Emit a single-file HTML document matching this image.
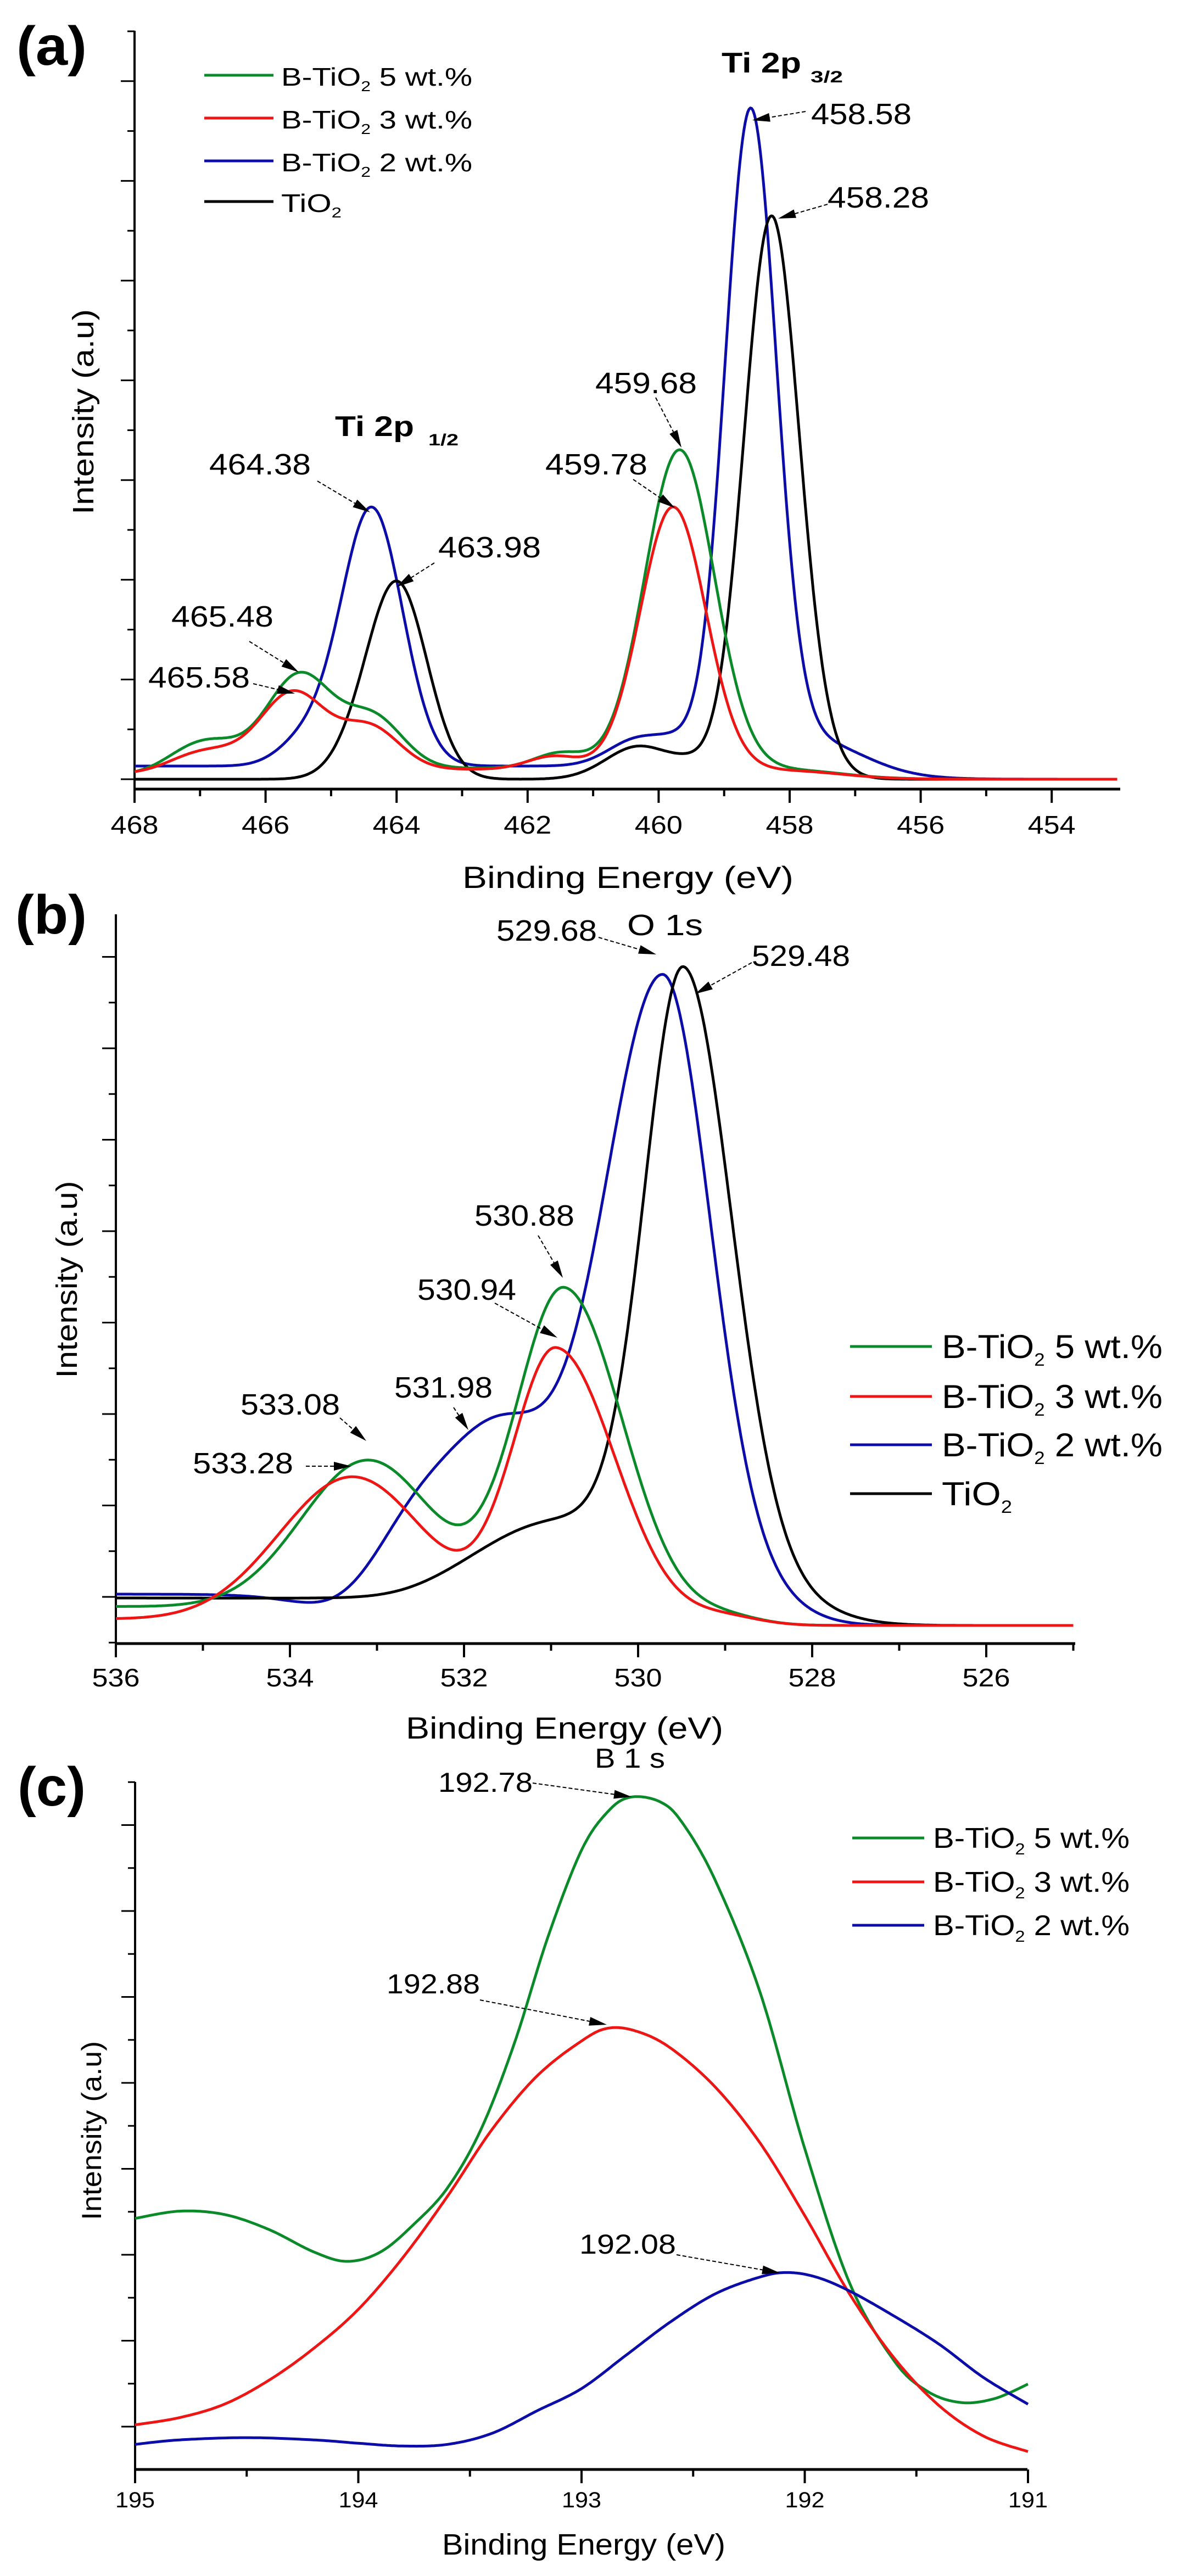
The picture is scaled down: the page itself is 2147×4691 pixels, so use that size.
<!DOCTYPE html>
<html><head><meta charset="utf-8">
<style>
html,body{margin:0;padding:0;background:#fff;}
svg{display:block;}
text{font-family:"Liberation Sans",Arial,sans-serif;fill:#000;}
</style></head>
<body>
<svg id="s" xmlns="http://www.w3.org/2000/svg" width="2147" height="4691" viewBox="0 0 2147 4691">
<rect width="2147" height="4691" fill="#fff"/>
<g id="axes" stroke="#000" fill="none"></g>
<g id="curves" fill="none" stroke-width="5" stroke-linejoin="round"></g>
<g id="arrows"></g>

<!-- Panel a texts -->
<text x="30" y="118" font-size="100" font-weight="bold" textLength="128" lengthAdjust="spacingAndGlyphs">(a)</text>
<text x="512" y="156" font-size="46" textLength="348" lengthAdjust="spacingAndGlyphs">B-TiO<tspan font-size="26" dy="10">2</tspan><tspan dy="-10"> 5 wt.%</tspan></text>
<text x="512" y="234" font-size="46" textLength="348" lengthAdjust="spacingAndGlyphs">B-TiO<tspan font-size="26" dy="10">2</tspan><tspan dy="-10"> 3 wt.%</tspan></text>
<text x="512" y="312" font-size="46" textLength="348" lengthAdjust="spacingAndGlyphs">B-TiO<tspan font-size="26" dy="10">2</tspan><tspan dy="-10"> 2 wt.%</tspan></text>
<text x="512" y="386" font-size="46" textLength="110" lengthAdjust="spacingAndGlyphs">TiO<tspan font-size="26" dy="10">2</tspan></text>
<text x="1314" y="132" font-size="52" font-weight="bold" textLength="145" lengthAdjust="spacingAndGlyphs">Ti 2p</text>
<text x="1476" y="150" font-size="30" font-weight="bold" textLength="59" lengthAdjust="spacingAndGlyphs">3/2</text>
<text x="610" y="794" font-size="52" font-weight="bold" textLength="144" lengthAdjust="spacingAndGlyphs">Ti 2p</text>
<text x="780" y="811" font-size="30" font-weight="bold" textLength="55" lengthAdjust="spacingAndGlyphs">1/2</text>
<g font-size="54">
<text x="1477" y="226" textLength="183" lengthAdjust="spacingAndGlyphs">458.58</text>
<text x="1507" y="378" textLength="185" lengthAdjust="spacingAndGlyphs">458.28</text>
<text x="1084" y="716" textLength="185" lengthAdjust="spacingAndGlyphs">459.68</text>
<text x="993" y="864" textLength="186" lengthAdjust="spacingAndGlyphs">459.78</text>
<text x="381" y="864" textLength="185" lengthAdjust="spacingAndGlyphs">464.38</text>
<text x="798" y="1015" textLength="187" lengthAdjust="spacingAndGlyphs">463.98</text>
<text x="312" y="1141" textLength="186" lengthAdjust="spacingAndGlyphs">465.48</text>
<text x="270" y="1252" textLength="185" lengthAdjust="spacingAndGlyphs">465.58</text>
</g>
<text x="842" y="1617" font-size="56" textLength="603" lengthAdjust="spacingAndGlyphs">Binding Energy (eV)</text>
<text transform="translate(170,750) rotate(-90)" x="0" y="0" text-anchor="middle" font-size="54" textLength="374" lengthAdjust="spacingAndGlyphs">Intensity (a.u)</text>

<!-- Panel b texts -->
<text x="28" y="1700" font-size="100" font-weight="bold" textLength="130" lengthAdjust="spacingAndGlyphs">(b)</text>
<g font-size="54">
<text x="1142" y="1703" textLength="138" lengthAdjust="spacingAndGlyphs">O 1s</text>
<text x="904" y="1713" textLength="183" lengthAdjust="spacingAndGlyphs">529.68</text>
<text x="1369" y="1759" textLength="179" lengthAdjust="spacingAndGlyphs">529.48</text>
<text x="864" y="2232" textLength="182" lengthAdjust="spacingAndGlyphs">530.88</text>
<text x="760" y="2367" textLength="180" lengthAdjust="spacingAndGlyphs">530.94</text>
<text x="718" y="2545" textLength="179" lengthAdjust="spacingAndGlyphs">531.98</text>
<text x="438" y="2576" textLength="181" lengthAdjust="spacingAndGlyphs">533.08</text>
<text x="351" y="2683" textLength="183" lengthAdjust="spacingAndGlyphs">533.28</text>
</g>
<g font-size="60">
<text x="1715" y="2473" textLength="402" lengthAdjust="spacingAndGlyphs">B-TiO<tspan font-size="32" dy="14">2</tspan><tspan dy="-14"> 5 wt.%</tspan></text>
<text x="1715" y="2564" textLength="402" lengthAdjust="spacingAndGlyphs">B-TiO<tspan font-size="32" dy="14">2</tspan><tspan dy="-14"> 3 wt.%</tspan></text>
<text x="1715" y="2652" textLength="402" lengthAdjust="spacingAndGlyphs">B-TiO<tspan font-size="32" dy="14">2</tspan><tspan dy="-14"> 2 wt.%</tspan></text>
<text x="1715" y="2741" textLength="128" lengthAdjust="spacingAndGlyphs">TiO<tspan font-size="32" dy="14">2</tspan></text>
</g>
<text x="739" y="3166" font-size="56" textLength="578" lengthAdjust="spacingAndGlyphs">Binding Energy (eV)</text>
<text transform="translate(140,2330) rotate(-90)" x="0" y="0" text-anchor="middle" font-size="54" textLength="359" lengthAdjust="spacingAndGlyphs">Intensity (a.u)</text>

<!-- Panel c texts -->
<text x="32" y="3288" font-size="100" font-weight="bold" textLength="124" lengthAdjust="spacingAndGlyphs">(c)</text>
<g font-size="50">
<text x="1083" y="3219" textLength="128" lengthAdjust="spacingAndGlyphs">B 1 s</text>
<text x="798" y="3263" textLength="172" lengthAdjust="spacingAndGlyphs">192.78</text>
<text x="704" y="3630" textLength="170" lengthAdjust="spacingAndGlyphs">192.88</text>
<text x="1055" y="4104" textLength="176" lengthAdjust="spacingAndGlyphs">192.08</text>
</g>
<g font-size="52">
<text x="1699" y="3365" textLength="358" lengthAdjust="spacingAndGlyphs">B-TiO<tspan font-size="29" dy="12">2</tspan><tspan dy="-12"> 5 wt.%</tspan></text>
<text x="1699" y="3445" textLength="358" lengthAdjust="spacingAndGlyphs">B-TiO<tspan font-size="29" dy="12">2</tspan><tspan dy="-12"> 3 wt.%</tspan></text>
<text x="1699" y="3524" textLength="358" lengthAdjust="spacingAndGlyphs">B-TiO<tspan font-size="29" dy="12">2</tspan><tspan dy="-12"> 2 wt.%</tspan></text>
</g>
<text x="805" y="4652" font-size="54" textLength="516" lengthAdjust="spacingAndGlyphs">Binding Energy (eV)</text>
<text transform="translate(184,3880) rotate(-90)" x="0" y="0" text-anchor="middle" font-size="50" textLength="326" lengthAdjust="spacingAndGlyphs">Intensity (a.u)</text>
<g id="ticklabels"></g>
</svg>
<script>
(function(){
var NS="http://www.w3.org/2000/svg";
function el(p,t,a){var e=document.createElementNS(NS,t);for(var k in a)e.setAttribute(k,a[k]);p.appendChild(e);return e;}
var axes=document.getElementById('axes'),cur=document.getElementById('curves'),arr=document.getElementById('arrows'),tl=document.getElementById('ticklabels');
function g(e,c,A,s){return A*Math.exp(-(e-c)*(e-c)/(2*s*s));}
function ag(e,c,A,sl,sr){var s=e>c?sl:sr;return g(e,c,A,s);}
function sg(e,c,w){return 1/(1+Math.exp(-(e-c)/w));}
var COL={g:'#0b8a2a',r:'#ee1515',b:'#0c0ca8',k:'#000'};

function axis(o){
 el(axes,'line',{x1:o.x0,y1:o.yAxis,x2:o.x1,y2:o.yAxis,'stroke-width':5});
 el(axes,'line',{x1:o.x0,y1:o.yAxis,x2:o.x0,y2:o.yTop,'stroke-width':4});
 o.xmaj.forEach(function(e){var x=o.X(e);el(axes,'line',{x1:x,y1:o.yAxis,x2:x,y2:o.yAxis+25,'stroke-width':4});
   var t=el(tl,'text',{x:x,y:o.ly,'text-anchor':'middle','font-size':o.fs,textLength:o.tw,lengthAdjust:'spacingAndGlyphs'});t.textContent=o.fmt(e);});
 o.xmin.forEach(function(e){var x=o.X(e);el(axes,'line',{x1:x,y1:o.yAxis,x2:x,y2:o.yAxis+13,'stroke-width':4});});
 o.ymaj.forEach(function(y){el(axes,'line',{x1:o.x0-25,y1:y,x2:o.x0,y2:y,'stroke-width':3});});
 o.ymin.forEach(function(y){el(axes,'line',{x1:o.x0-13,y1:y,x2:o.x0,y2:y,'stroke-width':3});});
}
function path(pts,col){var d='M'+pts.map(function(p){return p[0].toFixed(1)+','+p[1].toFixed(1);}).join(' L');el(cur,'path',{d:d,stroke:col});}
function arrow(x1,y1,x2,y2){
 var dx=x2-x1,dy=y2-y1,L=Math.sqrt(dx*dx+dy*dy),ux=dx/L,uy=dy/L,h=32,w=8;
 var bx=x2-ux*h,by=y2-uy*h;
 el(arr,'line',{x1:x1,y1:y1,x2:bx,y2:by,stroke:'#000','stroke-width':2,'stroke-dasharray':'7 4'});
 el(arr,'polygon',{points:x2+','+y2+' '+(bx-uy*w)+','+(by+ux*w)+' '+(bx+uy*w)+','+(by-ux*w),fill:'#000'});
}
function range(a,b,s){var r=[];for(var v=a;v<=b+1e-9;v+=s)r.push(+v.toFixed(3));return r;}

// ---------- Panel a ----------
var Xa=function(e){return 245+(468-e)*119.3;};
var ya=[],yam=[];for(var k=0;k<=7;k++){ya.push(1419-181.6*k);}for(k=0;k<8;k++){yam.push(1419-181.6*k-90.8);}
axis({x0:245,x1:2040,yAxis:1437,yTop:56,X:Xa,xmaj:range(454,468,2),xmin:range(455,467,2),ymaj:ya,ymin:yam,ly:1518,fs:46,tw:87,fmt:function(e){return e;}});
var Ba=1419;
var fa={
 b:function(e){return 24*sg(e,457.0,0.5)+g(e,458.6,1170,0.39)+g(e,457.7,55,0.8)+g(e,464.38,470,0.47)+g(e,465.4,45,0.4)+g(e,460.3,50,0.45)+g(e,459.7,25,0.3);},
 k:function(e){return g(e,458.28,1020,0.42)+g(e,457.6,25,0.4)+g(e,463.98,350,0.45)+g(e,464.6,35,0.4)+g(e,460.3,60,0.5)+g(e,459.5,18,0.3);},
 g:function(e){return 20*sg(e,457.2,0.4)+g(e,459.68,580,0.53)+g(e,465.48,170,0.5)+g(e,464.35,90,0.45)+g(e,466.9,50,0.5)+g(e,461.5,28,0.4)-12*sg(e,467.6,0.2);},
 r:function(e){return 18*sg(e,457.2,0.4)+g(e,459.78,478,0.5)+g(e,465.58,140,0.5)+g(e,464.4,75,0.45)+g(e,466.9,33,0.5)+g(e,461.6,24,0.4)-8*sg(e,467.6,0.2);}
};
['b','k','g','r'].forEach(function(c){var p=[];for(var e=468;e>=453-1e-9;e-=0.02){p.push([Xa(e),Ba-fa[c](e)]);}path(p,COL[c]);});
[[137,'g'],[215,'r'],[293,'b'],[367,'k']].forEach(function(r){el(cur,'line',{x1:372,y1:r[0],x2:498,y2:r[0],stroke:COL[r[1]]});});
arrow(1467,203,1370,219);arrow(1507,372,1417,398);arrow(1194,724,1241,815);arrow(1153,873,1229,925);
arrow(578,876,674,933);arrow(791,1025,722,1069);arrow(454,1168,544,1224);arrow(461,1245,537,1263);

// ---------- Panel b ----------
var Xb=function(e){return 211+(536-e)*158.5;};
var yb=[],ybm=[];for(k=0;k<=7;k++){yb.push(2908-166.5*k);}for(k=-1;k<8;k++){ybm.push(2908-166.5*k-83.25);}
ybm=ybm.filter(function(y){return y<2993&&y>1660;});
axis({x0:211,x1:1958,yAxis:2993,yTop:1665,X:Xb,xmaj:range(526,536,2),xmin:range(525,535,2),ymaj:yb,ymin:ybm,ly:3071,fs:46,tw:87,fmt:function(e){return e;}});
var Bb=2960;
var fb={
 b:function(e){return 57*sg(e,533.7,0.3)+ag(e,529.72,1180,0.7,0.55)+g(e,531.6,330,0.6)+g(e,532.6,150,0.5)+g(e,528.6,40,0.5);},
 k:function(e){return 50*sg(e,533.0,0.4)+ag(e,529.47,1110,0.45,0.55)+g(e,530.9,190,1.1)+g(e,528.4,38,0.6);},
 g:function(e){return 35*sg(e,534.5,0.4)+ag(e,530.85,610,0.55,0.675)+g(e,533.1,300,0.8)+g(e,529.0,15,0.4);},
 r:function(e){return 13*sg(e,535,0.6)+ag(e,530.94,500,0.5,0.68)+g(e,533.28,270,0.85)+g(e,529.0,15,0.4);}
};
['b','k','g','r'].forEach(function(c){var p=[];for(var e=536;e>=525-1e-9;e-=0.02){p.push([Xb(e),Bb-fb[c](e)]);}path(p,COL[c]);});
[[2452,'g'],[2543,'r'],[2631,'b'],[2720,'k']].forEach(function(r){el(cur,'line',{x1:1548,y1:r[0],x2:1697,y2:r[0],stroke:COL[r[1]]});});
arrow(1090,1707,1195,1738);arrow(1369,1753,1266,1810);arrow(980,2250,1025,2327);arrow(901,2373,1015,2436);
arrow(826,2563,853,2604);arrow(619,2582,667,2624);arrow(557,2670,640,2670);

// ---------- Panel c ----------
var Xc=function(e){return 246+(195-e)*406.5;};
var yc=[],ycm=[];for(k=0;k<=7;k++){yc.push(4419-156.5*k);}for(k=-1;k<8;k++){ycm.push(4419-156.5*k-78.25);}
ycm=ycm.filter(function(y){return y<4497&&y>3240;});
axis({x0:246,x1:1871,yAxis:4497,yTop:3245,X:Xc,xmaj:range(191,195,1),xmin:range(191.5,194.5,1),ymaj:yc,ymin:ycm,ly:4566,fs:40,tw:72,fmt:function(e){return e;}});
function cy(z){return 3100+z*1.016;}
var P={
 g:[[195,925],[194.8,912],[194.6,918],[194.4,945],[194.2,985],[194.05,1002],[193.9,985],[193.75,935],[193.6,870],[193.45,765],[193.3,610],[193.15,420],[193.0,265],[192.88,195],[192.78,170],[192.65,178],[192.55,215],[192.4,320],[192.2,520],[192.0,800],[191.8,1040],[191.6,1180],[191.45,1235],[191.3,1255],[191.15,1248],[191.0,1222]],
 r:[[195,1295],[194.8,1282],[194.6,1258],[194.4,1215],[194.2,1158],[194.0,1088],[193.8,995],[193.6,885],[193.4,765],[193.2,670],[193.0,607],[192.88,584],[192.75,590],[192.6,620],[192.4,690],[192.2,790],[192.0,920],[191.8,1060],[191.6,1175],[191.4,1260],[191.2,1315],[191.0,1343]],
 b:[[195,1330],[194.8,1322],[194.5,1318],[194.2,1322],[194.0,1328],[193.8,1333],[193.6,1330],[193.4,1310],[193.2,1270],[193.0,1230],[192.8,1170],[192.6,1110],[192.4,1060],[192.2,1030],[192.08,1022],[191.95,1030],[191.8,1055],[191.6,1100],[191.4,1150],[191.2,1210],[191.0,1258]]
};
function spline(pts){var out=[];for(var i=0;i<pts.length-1;i++){var p0=pts[Math.max(0,i-1)],p1=pts[i],p2=pts[i+1],p3=pts[Math.min(pts.length-1,i+2)];
 for(var t=0;t<1;t+=0.05){var t2=t*t,t3=t2*t;
  var x=0.5*((2*p1[0])+(-p0[0]+p2[0])*t+(2*p0[0]-5*p1[0]+4*p2[0]-p3[0])*t2+(-p0[0]+3*p1[0]-3*p2[0]+p3[0])*t3);
  var y=0.5*((2*p1[1])+(-p0[1]+p2[1])*t+(2*p0[1]-5*p1[1]+4*p2[1]-p3[1])*t2+(-p0[1]+3*p1[1]-3*p2[1]+p3[1])*t3);
  out.push([x,y]);}}
 out.push(pts[pts.length-1]);return out;}
['g','r','b'].forEach(function(c){var pts=P[c].map(function(p){return [Xc(p[0]),cy(p[1])];});path(spline(pts),COL[c]);});
[[3347,'g'],[3427,'r'],[3506,'b']].forEach(function(r){el(cur,'line',{x1:1552,y1:r[0],x2:1683,y2:r[0],stroke:COL[r[1]]});});
arrow(970,3247,1150,3272);arrow(874,3642,1105,3687);arrow(1232,4106,1420,4139);
})();
</script>
</body></html>
